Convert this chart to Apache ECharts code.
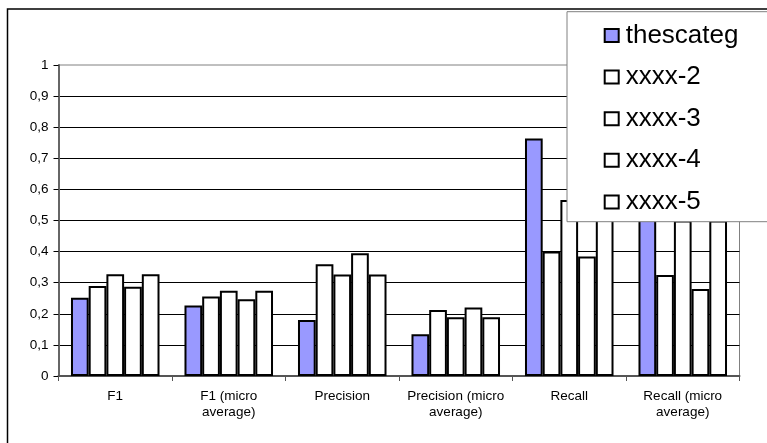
<!DOCTYPE html>
<html>
<head>
<meta charset="utf-8">
<title>Classification scores</title>
<script src="https://cdn.jsdelivr.net/npm/echarts@6/dist/echarts.min.js"></script>
<style>
  html, body { margin: 0; padding: 0; background: #ffffff; }
  #chart { width: 767px; height: 443px; }
</style>
</head>
<body>
<div id="chart"></div>
<script>
// Metric groups along the x axis
const categories = [
  'F1',
  'F1 (micro\naverage)',
  'Precision',
  'Precision (micro\naverage)',
  'Recall',
  'Recall (micro\naverage)'
];

// Scores per system, one value per metric group
const seriesNames = ['thescateg', 'xxxx-2', 'xxxx-3', 'xxxx-4', 'xxxx-5'];
const thescateg = [0.252, 0.227, 0.180, 0.134, 0.764, 0.74];
const xxxx2     = [0.289, 0.256, 0.359, 0.212, 0.400, 0.325];
const xxxx3     = [0.327, 0.274, 0.326, 0.189, 0.566, 0.50];
const xxxx4     = [0.287, 0.247, 0.395, 0.220, 0.384, 0.280];
const xxxx5     = [0.327, 0.274, 0.326, 0.189, 0.566, 0.50];
const seriesValues = [thescateg, xxxx2, xxxx3, xxxx4, xxxx5];
const seriesFills = ['#9999ff', '#ffffff', '#ffffff', '#ffffff', '#ffffff'];

// Value axis range and step
const yMin = 0;
const yMax = 1;
const yStep = 0.1;

const FONT = '"Liberation Sans", Arial, sans-serif';

const chart = echarts.init(document.getElementById('chart'), null, { renderer: 'canvas' });

const series = seriesNames.map((name, i) => ({
  name: name,
  type: 'bar',
  data: seriesValues[i],
  barGap: '0%',
  barCategoryGap: '22%',
  itemStyle: {
    color: seriesFills[i],
    borderColor: '#000000',
    borderWidth: 2
  },
  emphasis: { disabled: true }
}));

chart.setOption({
  animation: false,
  backgroundColor: '#ffffff',
  textStyle: { fontFamily: FONT, color: '#000000' },
  grid: {
    left: 58.5,
    right: 27.5,
    top: 65,
    bottom: 67,
    show: true,
    borderColor: '#808080',
    borderWidth: 1,
    backgroundColor: 'transparent'
  },
  xAxis: {
    type: 'category',
    data: categories,
    boundaryGap: true,
    axisLine: { show: true, lineStyle: { color: '#555555', width: 2 } },
    axisTick: { show: true, length: 5, alignWithLabel: false, lineStyle: { color: '#555555', width: 1 } },
    axisLabel: {
      interval: 0,
      margin: 12,
      fontSize: 13.5,
      lineHeight: 16.5,
      color: '#000000',
      fontFamily: FONT
    },
    splitLine: { show: false }
  },
  yAxis: {
    type: 'value',
    min: yMin,
    max: yMax,
    interval: yStep,
    axisLine: { show: true, lineStyle: { color: '#666666', width: 2 } },
    axisTick: { show: true, length: 5, lineStyle: { color: '#000000', width: 1 } },
    axisLabel: {
      margin: 10,
      fontSize: 13.5,
      color: '#000000',
      fontFamily: FONT,
      formatter: v => String(Math.round(v * 10) / 10).replace('.', ',')
    },
    splitLine: {
      show: true,
      showMaxLine: false,
      lineStyle: { color: '#000000', width: 1 }
    }
  },
  legend: {
    orient: 'vertical',
    left: 567,
    top: 11.7,
    data: seriesNames,
    icon: 'rect',
    itemWidth: 14,
    itemHeight: 13,
    itemGap: 15.6,
    padding: [10.8, 90, 6.8, 36.7],
    backgroundColor: '#ffffff',
    borderColor: '#808080',
    borderWidth: 1,
    borderRadius: 0,
    selectedMode: false,
    itemStyle: { borderColor: '#000000', borderWidth: 2 },
    textStyle: {
      fontFamily: FONT,
      fontSize: 26,
      lineHeight: 26,
      color: '#000000',
      padding: [0, 0, 0, 2]
    }
  },
  graphic: [
    {
      type: 'rect',
      silent: true,
      z: 100,
      shape: { x: 7.5, y: 9, width: 900, height: 600 },
      style: { fill: 'none', stroke: '#000000', lineWidth: 1.5 }
    }
  ],
  series: series
});
</script>
</body>
</html>
